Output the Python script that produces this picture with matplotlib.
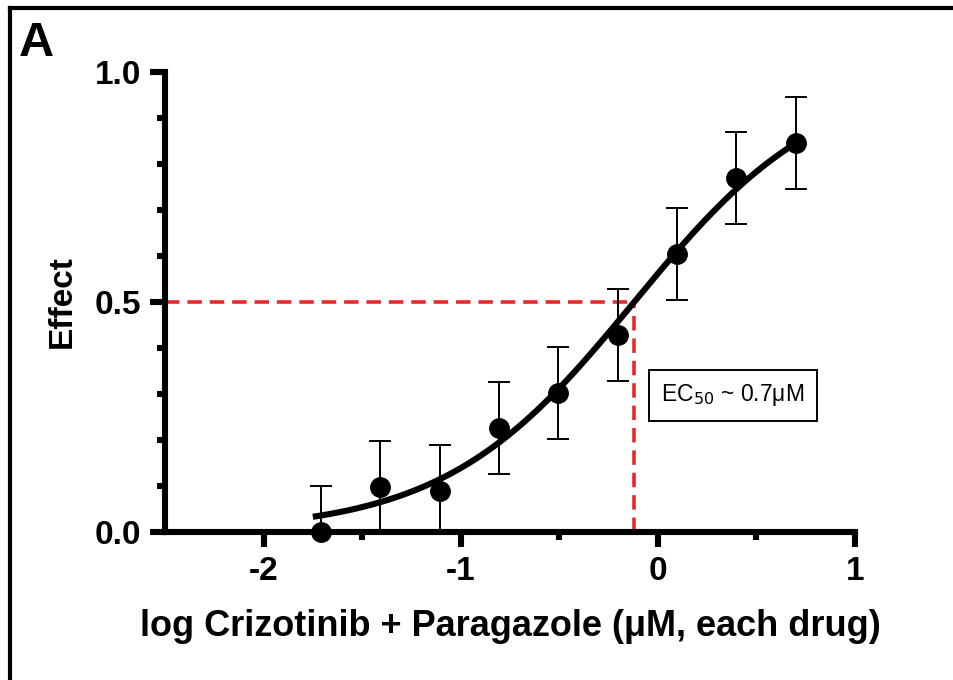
import numpy as np
import matplotlib.pyplot as plt
from matplotlib.ticker import FixedLocator, MultipleLocator
from matplotlib.lines import Line2D

# 数据：浓度（log μM）与效应值
log_conc = [-1.709, -1.408, -1.107, -0.806, -0.505, -0.204, 0.097, 0.398, 0.699]
effect = [0.0, 0.098, 0.089, 0.226, 0.302, 0.428, 0.604, 0.77, 0.846]
effect_err = [0.1, 0.1, 0.1, 0.1, 0.1, 0.1, 0.1, 0.1, 0.1]

# 拟合参数（剂量-效应曲线）
fit_bottom, fit_top = 0.0, 1.0
log_ec50 = -0.12
hill = 0.9
fit_range = (-1.75, 0.7)

plt.rcParams["font.family"] = ["Liberation Sans", "DejaVu Sans"]

fig = plt.figure(figsize=(9.54, 6.8), dpi=100)
ax = fig.add_axes([165 / 954, 1 - 532 / 680, 690 / 954, 460 / 680])

# 拟合曲线
xs = np.linspace(fit_range[0], fit_range[1], 200)
ys = fit_bottom + (fit_top - fit_bottom) / (1 + 10 ** ((log_ec50 - xs) * hill))
ax.plot(xs, ys, color="black", lw=4.4, zorder=3, clip_on=False, solid_capstyle="butt")

# 误差棒（低于0的部分被坐标轴裁掉）
ax.errorbar(log_conc, effect, yerr=effect_err, fmt="none", ecolor="black",
            elinewidth=1.4, capsize=8, capthick=1.4, zorder=2)
# 数据点
ax.plot(log_conc, effect, "o", color="black", ms=14, zorder=4, clip_on=False)

# EC50 参考线
red = "#e8282a"
ax.plot([-2.5, log_ec50], [0.5, 0.5], color=red, lw=2.6, ls=(0, (4, 2.2)), zorder=1, clip_on=False)
ax.plot([log_ec50, log_ec50], [0, 0.5], color=red, lw=2.6, ls=(0, (4, 2.2)), zorder=1, clip_on=False)

ax.text(0.38, 0.297, "EC$_{50}$ ~ 0.7μM", fontsize=16.5, ha="center", va="center",
        bbox=dict(boxstyle="square,pad=0.55", fc="white", ec="black", lw=1.4))

ax.set_xlim(-2.5, 1)
ax.set_ylim(0, 1)
ax.set_xticks([-2, -1, 0, 1])
ax.set_xticklabels(["-2", "-1", "0", "1"])
ax.set_yticks([0, 0.5, 1.0])
ax.set_yticklabels(["0.0", "0.5", "1.0"])
ax.xaxis.set_minor_locator(FixedLocator([-1.5, -0.5, 0.5]))
ax.yaxis.set_minor_locator(MultipleLocator(0.1))

for s in ["top", "right"]:
    ax.spines[s].set_visible(False)
for s in ["left", "bottom"]:
    ax.spines[s].set_linewidth(4.4)
    ax.spines[s].set_capstyle("projecting")

ax.tick_params(which="major", length=11, width=4.4, labelsize=24, pad=6)
ax.tick_params(which="minor", length=6, width=4.4)
for lab in ax.get_xticklabels() + ax.get_yticklabels():
    lab.set_fontweight("bold")

ax.set_xlabel("log Crizotinib + Paragazole (μM, each drug)", fontsize=26,
              fontweight="bold", labelpad=16)
ax.set_ylabel("Effect", fontsize=24, fontweight="bold", labelpad=12)

# 外框与面板标签
fig.add_artist(Line2D([10 / 954, 10 / 954], [0, 1 - 8 / 680], transform=fig.transFigure,
                      color="black", lw=3))
fig.add_artist(Line2D([10 / 954, 1], [1 - 8 / 680, 1 - 8 / 680], transform=fig.transFigure,
                      color="black", lw=3))
fig.text(19 / 954, 1 - 56 / 680, "A", fontsize=35, fontweight="bold", ha="left", va="baseline")

fig.savefig("out.png", dpi=100)
